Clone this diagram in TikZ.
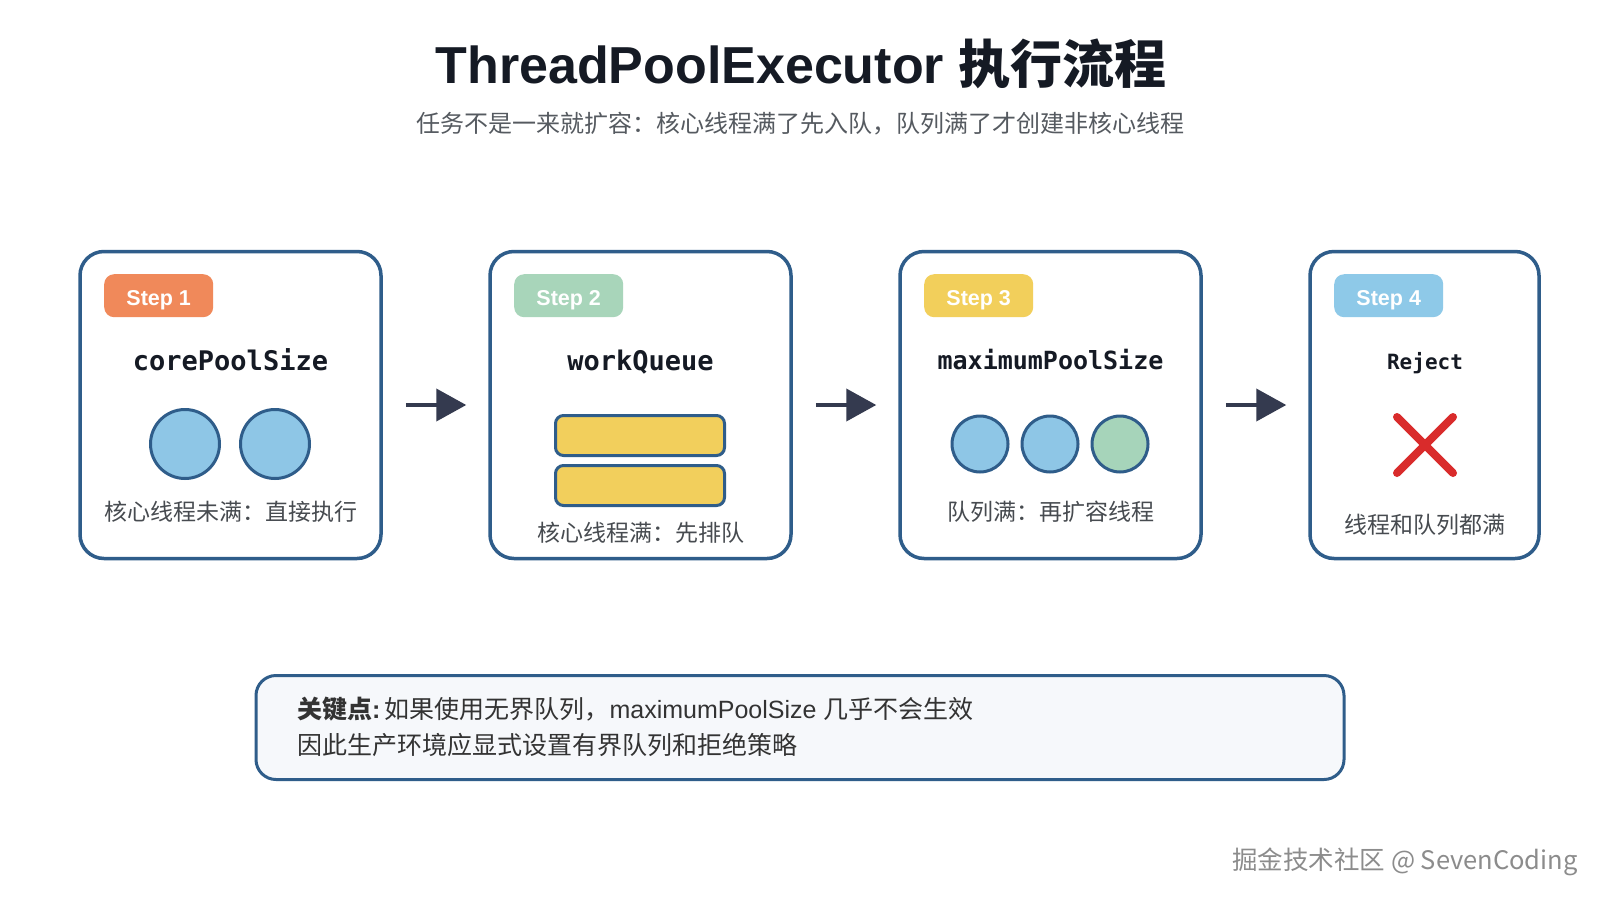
\documentclass[tikz,border=0pt]{standalone}
\usepackage{fontspec}
\setmainfont{Liberation Sans}
\newfontfamily\cjk{Noto Sans CJK SC}
\newfontfamily\monof{DejaVu Sans Mono}
\usetikzlibrary{arrows.meta}
\definecolor{frame}{HTML}{2F5D8A}
\definecolor{titleink}{HTML}{151A24}
\definecolor{subink}{HTML}{555A60}
\definecolor{captionink}{HTML}{474B50}
\definecolor{noteink}{HTML}{333333}
\definecolor{arrowink}{HTML}{343A4F}
\definecolor{threadblue}{HTML}{8EC6E6}
\definecolor{threadgreen}{HTML}{A6D4BA}
\definecolor{queueyellow}{HTML}{F2CF5C}
\definecolor{badgeorange}{HTML}{F0895A}
\definecolor{badgegreen}{HTML}{A8D5BA}
\definecolor{badgeyellow}{HTML}{F2CF5B}
\definecolor{badgeblue}{HTML}{8EC9E8}
\definecolor{rejectred}{HTML}{D92B2B}
\definecolor{notebg}{HTML}{F6F8FB}
\definecolor{markgray}{HTML}{8C8C8C}
\begin{document}
\begin{tikzpicture}[x=1pt,y=-1pt,
  stepbox/.style={draw=frame, line width=3.5pt, rounded corners=24pt, fill=white,
    minimum width=#1, minimum height=307pt, inner sep=0pt},
  badge/.style={fill=#1, rounded corners=10pt, minimum width=109pt, minimum height=43pt,
    text=white, font=\bfseries\fontsize{21.5}{24}\selectfont, inner sep=0pt, anchor=north west,
    text depth=0pt, text height=19pt},
  param/.style={font=\monof\bfseries\fontsize{#1}{30}\selectfont, text=titleink, inner sep=0pt},
  thread/.style={circle, draw=frame, line width=3pt, fill=#1, inner sep=0pt},
  qslot/.style={draw=frame, line width=3pt, rounded corners=8pt, fill=queueyellow,
    minimum width=169pt, minimum height=40pt, inner sep=0pt},
  caption/.style={font=\cjk\fontsize{23}{26}\selectfont, text=captionink, inner sep=0pt},
  flow/.style={draw=arrowink, line width=4pt, -{Triangle[length=30pt,width=32pt]}},
  notetext/.style={font=\fontsize{25}{28}\selectfont, text=noteink, inner sep=0pt, anchor=west}
]
\useasboundingbox (0,0) rectangle (1600,900);
\fill[white] (0,0) rectangle (1600,900);

% title
\node[font=\bfseries\fontsize{52}{60}\selectfont, text=titleink] (title) at (801,64)
  {ThreadPoolExecutor {\cjk 执行流程}};
\node[font=\cjk\fontsize{24}{28}\selectfont, text=subink] (subtitle) at (800,124)
  {任务不是一来就扩容：核心线程满了先入队，队列满了才创建非核心线程};

% boxes
\node[stepbox=301pt] (box1) at (230.5,405) {};
\node[stepbox=301pt] (box2) at (640.5,405) {};
\node[stepbox=301pt] (box3) at (1050.5,405) {};
\node[stepbox=229pt] (box4) at (1424.5,405) {};

% badges
\node[badge=badgeorange] (b1) at (104,274) {Step 1};
\node[badge=badgegreen] (b2) at (514,274) {Step 2};
\node[badge=badgeyellow] (b3) at (924,274) {Step 3};
\node[badge=badgeblue] (b4) at (1334,274) {Step 4};

% parameter names
\node[param=27] (p1) at (230.5,360) {corePoolSize};
\node[param=27] (p2) at (640.5,362) {workQueue};
\node[param=25] (p3) at (1050.5,360) {maximumPoolSize};
\node[param=21] (p4) at (1425,363) {Reject};

% step 1 threads
\node[thread=threadblue, minimum size=69pt] (c11) at (185,444) {};
\node[thread=threadblue, minimum size=69pt] (c12) at (275,444) {};
% step 2 queue
\node[qslot] (q1) at (640,435.5) {};
\node[qslot] (q2) at (640,485.5) {};
% step 3 threads
\node[thread=threadblue, minimum size=56pt] (c31) at (980,444) {};
\node[thread=threadblue, minimum size=56pt] (c32) at (1050,444) {};
\node[thread=threadgreen, minimum size=56pt] (c33) at (1120,444) {};
% step 4 cross
\draw[rejectred, line width=8pt, line cap=round] (1397,417) -- (1453,473);
\draw[rejectred, line width=8pt, line cap=round] (1453,417) -- (1397,473);

% captions
\node[caption] (t1) at (230.5,512) {核心线程未满：直接执行};
\node[caption] (t2) at (640.5,533) {核心线程满：先排队};
\node[caption] (t3) at (1050.5,512) {队列满：再扩容线程};
\node[caption] (t4) at (1425,525) {线程和队列都满};

% arrows
\draw[flow, shorten <=23pt, shorten >=22pt] (box1.east) -- (box2.west);
\draw[flow, shorten <=23pt, shorten >=22pt] (box2.east) -- (box3.west);
\draw[flow, shorten <=23pt, shorten >=22pt] (box3.east) -- (box4.west);

% note
\node[draw=frame, line width=3pt, rounded corners=20pt, fill=notebg,
  minimum width=1088pt, minimum height=104pt, inner sep=0pt] (note) at (800,727.5) {};
\node[notetext] (n1) at (297,709)
  {{\cjk\bfseries 关键点}\textbf{:}\kern4pt{\cjk 如果使用无界队列，}maximumPoolSize {\cjk 几乎不会生效}};
\node[notetext] (n2) at (297,745)
  {\cjk 因此生产环境应显式设置有界队列和拒绝策略};

% watermark
\node[font=\cjk\fontsize{25.5}{30}\selectfont, text=markgray] (mark) at (1405,862)
  {掘金技术社区 @ SevenCoding};
\end{tikzpicture}
\end{document}
